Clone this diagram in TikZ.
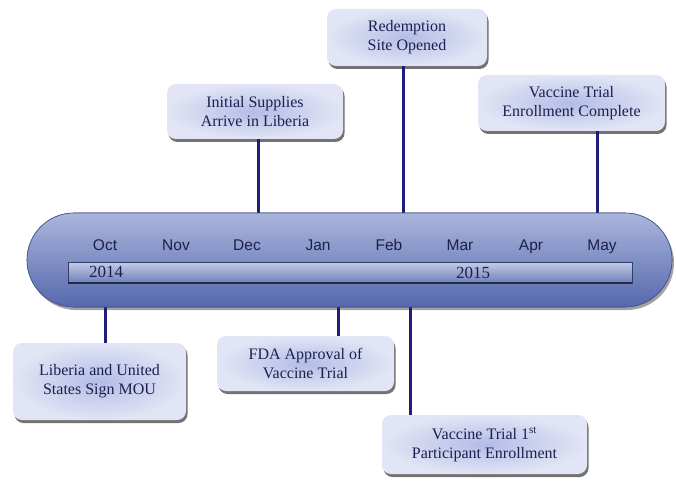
\documentclass[tikz,border=0pt]{standalone}
\usepackage{fontspec}
\setmainfont{Liberation Serif}
\setsansfont{Liberation Sans}
\usetikzlibrary{shadows,shapes.misc}

\definecolor{barTop}{HTML}{ABB6DD}
\definecolor{barBot}{HTML}{5568AC}
\definecolor{boxIn}{HTML}{B3BCE6}
\definecolor{boxOut}{HTML}{E2E5F5}
\definecolor{stem}{HTML}{1E1E78}
\definecolor{ink}{HTML}{1C2050}

\tikzset{
	event/.style={rounded corners=9pt, inner color=boxIn, outer color=boxOut,
		draw=none, align=center, text=ink, font=\fontsize{16}{19}\selectfont,
		drop shadow={shadow xshift=1.5pt, shadow yshift=-3pt, fill=black!55, opacity=1}},
	stemline/.style={stem, line width=3pt},
	month/.style={text=ink, anchor=base, font=\sffamily\fontsize{15.5}{18}\selectfont},
	year/.style={text=ink, anchor=base, font=\fontsize{17}{19}\selectfont}
}

\begin{document}
\begin{tikzpicture}[x=1pt,y=-1pt]
	\useasboundingbox (0,0) rectangle (676,481);

	%event boxes
	\node[event, minimum width=176pt, minimum height=55pt] (sup) at (255,111.5) {Initial Supplies\\Arrive in Liberia}; %Dec
	\node[event, minimum width=160pt, minimum height=57pt] (site) at (407,37.5) {Redemption\\Site Opened}; %Feb
	\node[event, minimum width=187pt, minimum height=56pt] (done) at (571.5,103) {Vaccine Trial\\Enrollment Complete}; %May
	\node[event, minimum width=173pt, minimum height=77pt] (mou) at (99.5,381.5) {Liberia and United\\States Sign MOU}; %Oct
	\node[event, minimum width=177pt, minimum height=55pt] (fda) at (305.5,363.5) {FDA Approval of\\Vaccine Trial}; %Jan
	\node[event, minimum width=205pt, minimum height=59pt] (first) at (484.5,444.5) {Vaccine Trial 1\textsuperscript{st}\\Participant Enrollment}; %Feb

	%timeline bar
	\node[rounded rectangle, minimum width=645pt, minimum height=94pt, inner sep=0pt,
		top color=barTop, bottom color=barBot, draw=barBot!80!black, line width=0.6pt,
		drop shadow={shadow xshift=2pt, shadow yshift=-3pt, fill=black!45, opacity=0.8}] (bar) at (349.5,260) {};

	%stems
	\draw[stemline] (sup.south -| 258,0) -- (bar.north -| 258,0);
	\draw[stemline] (site.south -| 403,0) -- (bar.north -| 403,0);
	\draw[stemline] (done.south -| 597,0) -- (bar.north -| 597,0);
	\draw[stemline] (bar.south -| 105,0) -- (mou.north -| 105,0);
	\draw[stemline] (bar.south -| 338,0) -- (fda.north -| 338,0);
	\draw[stemline] (bar.south -| 410,0) -- (first.north -| 410,0);
	\node[rounded rectangle, minimum width=645pt, minimum height=94pt, inner sep=0pt,
		top color=barTop, bottom color=barBot, draw=barBot!80!black, line width=0.6pt] at (bar) {};

	%year strip
	\node[minimum width=564pt, minimum height=21pt, inner sep=0pt, top color=barTop!70!white,
		bottom color=barBot!85!white, draw=barBot!60!black, line width=0.5pt] (strip) at (350,272.5) {};
	\draw[barBot!40!black, line width=2pt] (strip.south west) -- (strip.south east);
	\node[year] (y14) at (106,277.5) {2014};
	\node[year] (y15) at (473,278.5) {2015};

	%months
	\foreach \m [count=\i from 0] in {Oct,Nov,Dec,Jan,Feb,Mar,Apr,May}
		\node[month] (m\i) at (105+71*\i,250) {\m};
\end{tikzpicture}
\end{document}
